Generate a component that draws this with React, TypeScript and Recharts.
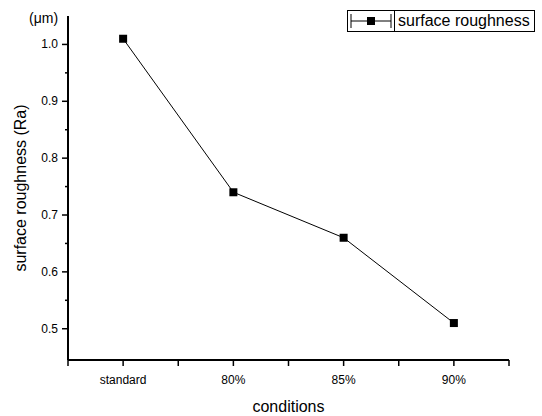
import { LineChart, Line, XAxis, YAxis, Label } from 'recharts';

const categories = ['standard', '80%', '85%', '90%'];
const roughness = [1.01, 0.74, 0.66, 0.51];
const yMajorTicks = [0.5, 0.6, 0.7, 0.8, 0.9, 1.0];
const yMinorTicks = [0.55, 0.65, 0.75, 0.85, 0.95];
const xTicks = [0.5, 1, 1.5, 2, 2.5, 3, 3.5, 4, 4.5];

const data = categories.map((name, i) => ({ x: i + 1, name, value: roughness[i] }));

const FONT = '"Liberation Sans", Arial, sans-serif';

function YTick(props: any) {
  const { x, y, payload } = props;
  const v = payload.value as number;
  const major = yMajorTicks.some((t) => Math.abs(t - v) < 1e-6);
  return (
    <g>
      <line x1={x - (major ? 6 : 3)} x2={x} y1={y} y2={y} stroke="#000" strokeWidth={1.5} />
      {major && (
        <text x={x - 10} y={y} dy={4} textAnchor="end" fontSize={12} fontFamily={FONT} fill="#000">
          {v.toFixed(1)}
        </text>
      )}
    </g>
  );
}

function XTick(props: any) {
  const { x, y, payload } = props;
  const v = payload.value as number;
  const idx = Number.isInteger(v) ? v - 1 : -1;
  return (
    <g>
      <line x1={x} x2={x} y1={y} y2={y + 6} stroke="#000" strokeWidth={1.5} />
      {idx >= 0 && (
        <text x={x} y={y + 24} textAnchor="middle" fontSize={12} fontFamily={FONT} fill="#000">
          {categories[idx]}
        </text>
      )}
    </g>
  );
}

function SquareDot(props: any) {
  const { cx, cy } = props;
  if (cx == null || cy == null) return null;
  return <rect x={cx - 4} y={cy - 4} width={8} height={8} fill="#000" />;
}

// legend drawn by hand so it doesn't push the plot down
function LegendBox() {
  return (
    <div
      style={{
        position: 'absolute',
        left: 347,
        top: 10,
        width: 186,
        height: 20,
        border: '1px solid #000',
        display: 'flex',
        alignItems: 'center',
        background: '#fff',
        fontFamily: FONT,
        fontSize: 16,
        color: '#000',
      }}
    >
      <svg width={46} height={20} style={{ borderRight: '1px solid #000' }}>
        <line x1={3} x2={43} y1={10} y2={10} stroke="#000" strokeWidth={1} />
        <line x1={3} x2={3} y1={3} y2={17} stroke="#000" strokeWidth={1} />
        <line x1={43} x2={43} y1={3} y2={17} stroke="#000" strokeWidth={1} />
        <rect x={19} y={6} width={8} height={8} fill="#000" />
      </svg>
      <span style={{ marginLeft: 3, whiteSpace: 'nowrap' }}>surface roughness</span>
    </div>
  );
}

export default function App() {
  return (
    <div style={{ position: 'absolute', left: 0, top: 0, width: 542, height: 416, background: '#fff' }}>
      <LineChart width={542} height={416} data={data} margin={{ top: 16, right: 33, bottom: 26, left: 8 }}>
        <XAxis
          dataKey="x"
          type="number"
          domain={[0.5, 4.5]}
          ticks={xTicks}
          interval={0}
          height={30}
          tickSize={0}
          tickMargin={0}
          tickLine={false}
          tick={<XTick />}
          axisLine={{ stroke: '#000', strokeWidth: 2 }}
        >
          <Label
            value="conditions"
            position="insideBottom"
            offset={-22}
            style={{ fontFamily: FONT, fontSize: 16, fill: '#000' }}
          />
        </XAxis>
        <YAxis
          type="number"
          domain={[0.445, 1.05]}
          ticks={[...yMajorTicks, ...yMinorTicks].sort((a, b) => a - b)}
          interval={0}
          width={60}
          tickSize={0}
          tickMargin={0}
          tickLine={false}
          tick={<YTick />}
          axisLine={{ stroke: '#000', strokeWidth: 2 }}
          allowDataOverflow
        >
          <Label
            value="surface roughness (Ra)"
            angle={-90}
            position="insideLeft"
            offset={12}
            style={{ fontFamily: FONT, fontSize: 16, fill: '#000', textAnchor: 'middle' }}
          />
          <Label
            value="(μm)"
            position="insideTopLeft"
            offset={0}
            content={(p: any) => (
              <text x={p.viewBox.x + 21} y={p.viewBox.y + 7} fontSize={14} fontFamily={FONT} fill="#000">
                (μm)
              </text>
            )}
          />
        </YAxis>
        <Line
          dataKey="value"
          stroke="#000"
          strokeWidth={1}
          dot={<SquareDot />}
          activeDot={false}
          isAnimationActive={false}
          legendType="none"
        />
      </LineChart>
      <LegendBox />
    </div>
  );
}
